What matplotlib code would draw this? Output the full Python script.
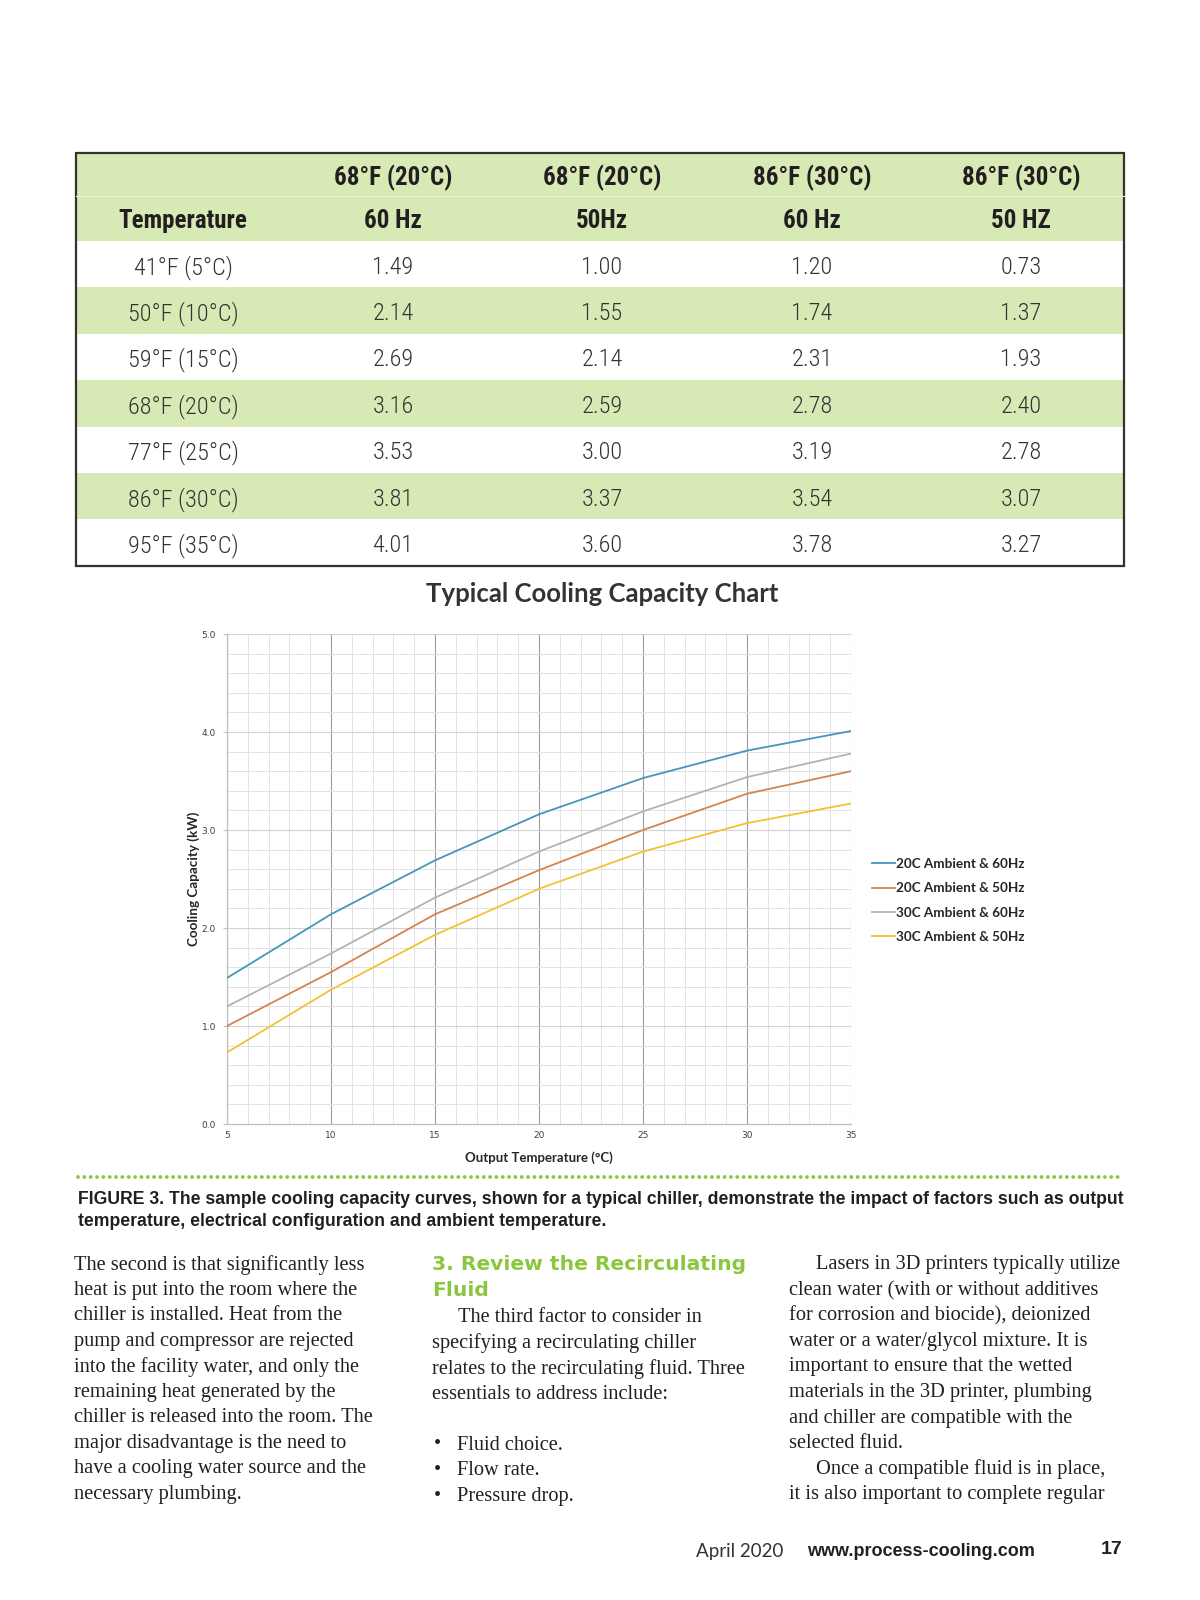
import matplotlib
matplotlib.use("Agg")
import matplotlib.pyplot as plt
from matplotlib.patches import Rectangle
from matplotlib.ticker import MultipleLocator, FormatStrFormatter

# Tabela de capacidade de refrigeração (kW)
row_labels = ['41°F (5°C)', '50°F (10°C)', '59°F (15°C)', '68°F (20°C)',
              '77°F (25°C)', '86°F (30°C)', '95°F (35°C)']
head_top = ['', '68°F (20°C)', '68°F (20°C)', '86°F (30°C)', '86°F (30°C)']
head_bottom = ['Temperature', '60 Hz', '50Hz', '60 Hz', '50 HZ']

output_temp = [5, 10, 15, 20, 25, 30, 35]
amb20_60hz = [1.49, 2.14, 2.69, 3.16, 3.53, 3.81, 4.01]
amb20_50hz = [1.00, 1.55, 2.14, 2.59, 3.00, 3.37, 3.60]
amb30_60hz = [1.20, 1.74, 2.31, 2.78, 3.19, 3.54, 3.78]
amb30_50hz = [0.73, 1.37, 1.93, 2.40, 2.78, 3.07, 3.27]
series_labels = ['20C Ambient & 60Hz', '20C Ambient & 50Hz',
                 '30C Ambient & 60Hz', '30C Ambient & 50Hz']

col1_lines = [
    "The second is that significantly less",
    "heat is put into the room where the",
    "chiller is installed. Heat from the",
    "pump and compressor are rejected",
    "into the facility water, and only the",
    "remaining heat generated by the",
    "chiller is released into the room. The",
    "major disadvantage is the need to",
    "have a cooling water source and the",
    "necessary plumbing.",
]
col2_lines = [
    "The third factor to consider in",
    "specifying a recirculating chiller",
    "relates to the recirculating fluid. Three",
    "essentials to address include:",
]
col2_bullets = ["Fluid choice.", "Flow rate.", "Pressure drop."]
col3_lines = [
    "Lasers in 3D printers typically utilize",
    "clean water (with or without additives",
    "for corrosion and biocide), deionized",
    "water or a water/glycol mixture. It is",
    "important to ensure that the wetted",
    "materials in the 3D printer, plumbing",
    "and chiller are compatible with the",
    "selected fluid.",
    "Once a compatible fluid is in place,",
    "it is also important to complete regular",
]

W, H = 1200, 1600
GREEN_ROW = '#d7e9b5'
GREEN = '#8cc63f'
INK = '#231f20'
NARROW = ['DejaVu Sans Condensed', 'Roboto Condensed', 'Liberation Sans Narrow', 'DejaVu Sans']
SERIF = ['Liberation Serif', 'DejaVu Serif']
LATO = ['Lato', 'DejaVu Sans']

fig = plt.figure(figsize=(12, 16), dpi=100)
fig.patch.set_facecolor('white')

# eixo de página em pixels
page = fig.add_axes([0, 0, 1, 1])
page.set_xlim(0, W)
page.set_ylim(H, 0)
page.axis('off')

# ---- tabela ----
t_left, t_right, t_top, t_head = 76, 1124, 153, 241
row_h = 46.4
col_x = [183, 393, 602, 812, 1021]
t_bottom = t_head + row_h * len(row_labels)

page.add_patch(Rectangle((t_left, t_top), t_right - t_left, t_head - t_top,
                         facecolor=GREEN_ROW, edgecolor='none'))
page.plot([t_left, t_right], [196, 196], color='#e8f2d8', lw=0.8)
for i in range(len(row_labels)):
    if i % 2 == 1:
        page.add_patch(Rectangle((t_left, t_head + i * row_h), t_right - t_left, row_h,
                                 facecolor=GREEN_ROW, edgecolor='none'))
page.add_patch(Rectangle((t_left, t_top), t_right - t_left, t_bottom - t_top,
                         facecolor='none', edgecolor='#333333', lw=1.6))

for x, a, b in zip(col_x, head_top, head_bottom):
    page.text(x, 178, a, ha='center', va='center', fontsize=18,
              fontweight='bold', family=NARROW, fontstretch='condensed', color=INK)
    page.text(x, 221, b, ha='center', va='center', fontsize=18,
              fontweight='bold', family=NARROW, fontstretch='condensed', color=INK)

table_cols = [amb20_60hz, amb20_50hz, amb30_60hz, amb30_50hz]
for i, lab in enumerate(row_labels):
    yc = t_head + row_h * (i + 0.5) + 3
    page.text(col_x[0], yc, lab, ha='center', va='center', fontsize=17.5,
              fontweight='light', family=NARROW, fontstretch='condensed', color='#333333')
    for j, col in enumerate(table_cols):
        page.text(col_x[j + 1], yc, f"{col[i]:.2f}", ha='center', va='center',
                  fontsize=17.5, fontweight='light', family=NARROW,
                  fontstretch='condensed', color='#333333')

# ---- gráfico ----
page.text(602, 594, 'Typical Cooling Capacity Chart', ha='center', va='center',
          fontsize=18.5, fontweight='bold', family=LATO, color='#333333')

px_l, px_r, px_t, px_b = 227, 851, 634, 1124
ax = fig.add_axes([px_l / W, 1 - px_b / H, (px_r - px_l) / W, (px_b - px_t) / H])
colors = ['#4596bb', '#d4844f', '#b3b3b3', '#f1c232']
for vals, lab, c in zip([amb20_60hz, amb20_50hz, amb30_60hz, amb30_50hz], series_labels, colors):
    ax.plot(output_temp, vals, color=c, lw=1.3, label=lab, zorder=3)

ax.set_xlim(5, 35)
ax.set_ylim(0, 5)
ax.xaxis.set_major_locator(MultipleLocator(5))
ax.xaxis.set_minor_locator(MultipleLocator(1))
ax.yaxis.set_major_locator(MultipleLocator(1))
ax.yaxis.set_minor_locator(MultipleLocator(0.2))
ax.yaxis.set_major_formatter(FormatStrFormatter('%.1f'))
ax.grid(which='minor', color='#e2e2e2', lw=0.7)
ax.grid(which='major', axis='y', color='#d2d2d2', lw=0.8)
ax.grid(which='major', axis='x', color='#9c9c9c', lw=0.8)
ax.set_axisbelow(True)
for s in ['top', 'right']:
    ax.spines[s].set_visible(False)
for s in ['left', 'bottom']:
    ax.spines[s].set_color('#bfbfbf')
    ax.spines[s].set_linewidth(0.9)
ax.tick_params(which='both', length=0, labelsize=6.5, labelcolor='#404040', pad=5)
ax.tick_params(axis='y', which='major', length=3, color='#bfbfbf')
ax.set_ylabel('Cooling Capacity (kW)', fontsize=9.7, fontweight='bold',
              family=LATO, color='#262626', labelpad=1)
ax.set_xlabel('Output Temperature (°C)', fontsize=9.5, fontweight='bold',
              family=LATO, color='#262626', labelpad=8)

fig.legend(loc='upper left', bbox_to_anchor=(872 / W, 1 - 858 / H), frameon=False,
           prop={'family': LATO, 'weight': 'bold', 'size': 9.7},
           handlelength=1.7, handletextpad=0.1, labelspacing=0.91,
           borderpad=0, borderaxespad=0, labelcolor='#262626')

# ---- legenda da figura ----
page.plot([78, 1122], [1177, 1177], color=GREEN, lw=2.8,
          linestyle=(0, (0.01, 1.62)), dash_capstyle='round')
page.text(78, 1200, 'FIGURE 3. The sample cooling capacity curves, shown for a typical chiller, '
          'demonstrate the impact of factors such as output', ha='left', va='center',
          fontsize=12.7, fontweight='bold', family=['Liberation Sans', 'DejaVu Sans'], color=INK)
page.text(78, 1221, 'temperature, electrical configuration and ambient temperature.',
          ha='left', va='center', fontsize=12.7, fontweight='bold',
          family=['Liberation Sans', 'DejaVu Sans'], color=INK)

# ---- texto do artigo ----
lead = 25.5
y0 = 1265
body_fs = 14.7
for i, line in enumerate(col1_lines):
    page.text(74, y0 + i * lead, line, ha='left', va='center', fontsize=body_fs,
              family=SERIF, color=INK)

page.text(432, y0, '3. Review the Recirculating', ha='left', va='center', fontsize=14.6,
          fontweight='bold', family=['DejaVu Sans'], color=GREEN)
page.text(432, y0 + lead, 'Fluid', ha='left', va='center', fontsize=14.6,
          fontweight='bold', family=['DejaVu Sans'], color=GREEN)
for i, line in enumerate(col2_lines):
    x = 458 if i == 0 else 432
    page.text(x, 1318 + i * lead, line, ha='left', va='center', fontsize=body_fs,
              family=SERIF, color=INK)
for i, line in enumerate(col2_bullets):
    page.text(437, 1445 + i * lead, '•', ha='center', va='center', fontsize=body_fs,
              family=SERIF, color=INK)
    page.text(457, 1445 + i * lead, line, ha='left', va='center', fontsize=body_fs,
              family=SERIF, color=INK)

for i, line in enumerate(col3_lines):
    x = 816 if i in (0, 8) else 789
    page.text(x, y0 + i * lead, line, ha='left', va='center', fontsize=body_fs,
              family=SERIF, color=INK)

# ---- rodapé ----
page.text(696, 1551, 'April 2020', ha='left', va='center', fontsize=13.5,
          family=LATO, color='#333333')
page.text(807, 1551, 'www.process-cooling.com', ha='left', va='center', fontsize=13,
          fontweight='bold', family=['Liberation Sans', 'DejaVu Sans'], color=INK)
page.text(1123, 1549, '17', ha='right', va='center', fontsize=14,
          fontweight='bold', family=['Liberation Sans', 'DejaVu Sans'], color=INK)

fig.savefig('out.png', dpi=100, facecolor='white')
